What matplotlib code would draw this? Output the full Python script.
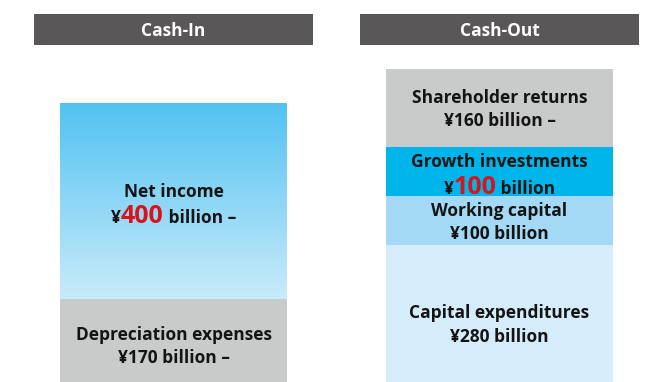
import numpy as np
import matplotlib
matplotlib.use("Agg")
import matplotlib.pyplot as plt
from matplotlib.patches import Rectangle

# ---- data (¥ billion) ----
cash_in_labels = ["Depreciation expenses", "Net income"]          # bottom -> top
cash_in_values = [170, 400]
cash_in_suffix = [" billion \u2013", " billion \u2013"]
cash_in_highlight = [False, True]

cash_out_labels = ["Capital expenditures", "Working capital",
                   "Growth investments", "Shareholder returns"]   # bottom -> top
cash_out_values = [280, 100, 100, 160]
cash_out_suffix = [" billion", " billion", " billion", " billion \u2013"]
cash_out_highlight = [False, False, True, False]

headers = ["Cash-In", "Cash-Out"]

# ---- style ----
FONT = "Open Sans"
HEADER_BG = "#595757"
GREY = "#c9caca"
RED = "#d7141c"
INK = "#141414"
cash_out_colors = ["#d5ecfa", "#a3d9f5", "#00b5e9", GREY]
cash_in_colors = [GREY, None]          # None -> gradient fill
grad_top, grad_bottom = "#52c2f1", "#c9ebfa"
LABEL_SIZE = 12.5

W, H = 645, 382
PX_PER_UNIT = 0.489                    # vertical scale: pixels per ¥ billion

fig = plt.figure(figsize=(W / 100, H / 100), dpi=100)
ax = fig.add_axes([0, 0, 1, 1])
ax.set_xlim(0, W)
ax.set_ylim(0, H / PX_PER_UNIT)
ax.axis("off")

col_x = [173.5, 499.5]
bar_w = 227
header_w, header_h, header_top = 279, 31, 14

renderer = fig.canvas.get_renderer()


def text_width(s, size):
    t = ax.text(0, 0, s, fontsize=size, fontweight="bold", family=FONT)
    bb = t.get_window_extent(renderer=renderer)
    t.remove()
    return bb.width


def draw_line(xc, y, runs):
    """Draw a centred line made of (text, size, color) runs on one baseline."""
    widths = [text_width(s, sz) for s, sz, _ in runs]
    x = xc - sum(widths) / 2
    for (s, sz, c), w in zip(runs, widths):
        ax.text(x, y, s, fontsize=sz, fontweight="bold", family=FONT,
                color=c, ha="left", va="baseline")
        x += w


def draw_stack(xc, values, colors, labels, suffixes, highlights, offsets):
    bottom = 0
    for v, c, lab, suf, hl, off in zip(values, colors, labels, suffixes,
                                      highlights, offsets):
        if c is None:
            grad = np.linspace(0, 1, 256).reshape(-1, 1)
            c0 = np.array(matplotlib.colors.to_rgb(grad_bottom))
            c1 = np.array(matplotlib.colors.to_rgb(grad_top))
            img = c0 + (c1 - c0) * grad[:, :, None]
            ax.imshow(img, extent=(xc - bar_w / 2, xc + bar_w / 2, bottom, bottom + v),
                      origin="lower", aspect="auto", interpolation="bilinear", zorder=1)
        else:
            ax.bar(xc, v, bottom=bottom, width=bar_w, color=c, linewidth=0, zorder=1)
        # label block: two baselines around the segment centre
        mid = bottom + v / 2 - off / PX_PER_UNIT
        gap = (26.5 if hl else 23.3) / PX_PER_UNIT
        draw_line(xc, mid + gap / 2, [(lab, LABEL_SIZE, INK)])
        if hl:
            runs = [("\u00a5", LABEL_SIZE, INK), (str(v), 18, RED),
                    (suf, LABEL_SIZE, INK)]
        else:
            runs = [("\u00a5" + str(v) + suf, LABEL_SIZE, INK)]
        draw_line(xc, mid - gap / 2, runs)
        bottom += v


draw_stack(col_x[0], cash_in_values, cash_in_colors, cash_in_labels,
           cash_in_suffix, cash_in_highlight, offsets=[11, 9])
draw_stack(col_x[1], cash_out_values, cash_out_colors, cash_out_labels,
           cash_out_suffix, cash_out_highlight, offsets=[16.5, 6.8, 8.8, 6])

# column headers
for xc, name in zip(col_x, headers):
    x0 = (xc - header_w / 2) / W
    y0 = (H - header_top - header_h) / H
    fig.patches.append(Rectangle((x0, y0), header_w / W, header_h / H,
                                 transform=fig.transFigure, color=HEADER_BG,
                                 linewidth=0, zorder=0))
    fig.text(xc / W, (H - header_top - header_h / 2) / H, name, color="white",
             fontsize=12.5, fontweight="bold", family=FONT,
             ha="center", va="center_baseline")

fig.savefig("out.png", dpi=100, facecolor="white")
